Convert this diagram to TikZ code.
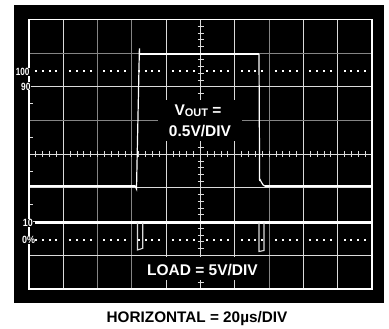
\documentclass[tikz,border=0pt]{standalone}
\usepackage{fontspec}
\setmainfont{Liberation Sans}
\definecolor{gridhi}{gray}{0.86}
\definecolor{gridlo}{gray}{0.52}
\definecolor{pulsecol}{gray}{0.85}
\tikzset{
  gridline/.style={line width=1pt},
  tickline/.style={draw=gridhi, line width=0.9pt},
  trace/.style={draw=white, line width=2pt},
  edge/.style={draw=white, line width=1.2pt},
  pulse/.style={draw=pulsecol, line width=1.1pt},
  scalelbl/.style={text=white, fill=black, font=\bfseries\fontsize{10.5}{10.5}\selectfont, inner sep=0.3pt, anchor=east},
  biglbl/.style={text=white, font=\bfseries\fontsize{15.5}{15.5}\selectfont, inner sep=0pt, anchor=base},
  caption/.style={text=black, font=\bfseries\fontsize{15.3}{15.3}\selectfont, inner sep=0pt, anchor=base},
}
\begin{document}
\begin{tikzpicture}[x=1pt,y=-1pt]
\useasboundingbox (0,0) rectangle (389,329);
\fill[black] (14,5) rectangle (384,303);
% vertical grid lines
\foreach \i/\c in {1/gridhi,2/gridlo,3/gridlo,4/gridhi,6/gridhi,7/gridlo,8/gridhi,9/gridhi}
  \draw[gridline,draw=\c] ({29+34.3*\i},19.5) -- ({29+34.3*\i},289);
% horizontal grid lines
\foreach \j/\c in {1/gridlo,2/gridhi,3/gridlo,5/gridhi,6/gridhi,7/gridhi}
  \draw[gridline,draw=\c] (29,{19.5+33.6875*\j}) -- (372,{19.5+33.6875*\j});
% centre axes
\draw[gridline,draw=gridhi] (200.5,19.5) -- (200.5,289);
\draw[gridline,draw=gridhi] (29,154.25) -- (372,154.25);
\foreach \k in {1,...,49}
  \draw[tickline] ({29+6.86*\k},151.2) -- ({29+6.86*\k},157.3);
\foreach \k in {1,...,39}
  \draw[tickline] (197.5,{19.5+6.7375*\k}) -- (203.5,{19.5+6.7375*\k});
% left edge ticks
\foreach \y in {103.9,137.6,171.1,204.9}
  \draw[tickline] (29,\y) -- (33,\y);
% dotted 100% and 0% lines
\foreach \i in {0,...,9}
  \foreach \k in {1,...,4}{
    \fill[white] ({29+34.3*\i+6.86*\k-1},70.5) rectangle ++(2,2);
    \fill[white] ({29+34.3*\i+6.86*\k-1},238.5) rectangle ++(2,2);
  }
% frame
\draw[white, line width=1.3pt] (29,19.5) rectangle (372,289);
% VOUT trace
\draw[trace] (29,185.7) -- (135,185.7);
\draw[edge] (135,185.7) -- (136.5,189) -- (139.4,48.3) -- (139.4,54);
\draw[trace] (139.4,54) -- (259,54);
\draw[edge] (259,54) -- (259.6,180) to[out=90,in=180] (265.5,186.4);
\draw[trace] (265,186.4) -- (372,186.4);
% LOAD trace
\draw[white, line width=3pt] (35,222.7) -- (373,222.7);
\draw[pulse] (137.5,222.7) -- (137.5,250) -- (142.7,248.3) -- (142.7,222.7);
\draw[pulse] (259,222.7) -- (259,251.5) -- (264,250.5) -- (264,222.7);
% scale labels
\node[scalelbl] (l100) at (30,72) {\scalebox{0.78}[1]{100}};
\node[scalelbl] (l90) at (31,86.4) {\scalebox{0.8}[1]{90}};
\node[scalelbl] (l10) at (33.4,222.6) {\scalebox{0.85}[1]{10}};
\node[scalelbl] (l0) at (35.5,239.8) {\scalebox{0.85}[1]{0\%}};
% label boxes
\fill[black] (158,100.5) rectangle (242,141.5);
\fill[black] (143,257) rectangle (263,280);
\node[biglbl] (vout) at (198,115.8) {V{\fontsize{11}{11}\selectfont\raisebox{-1pt}{OUT}} =};
\node[biglbl] (vdiv) at (200,136.7) {0.5V/DIV};
\node[biglbl] (load) at (202.5,275) {LOAD = 5V/DIV};
\node[caption] (horiz) at (197,322.3) {HORIZONTAL = 20µs/DIV};
\end{tikzpicture}
\end{document}
